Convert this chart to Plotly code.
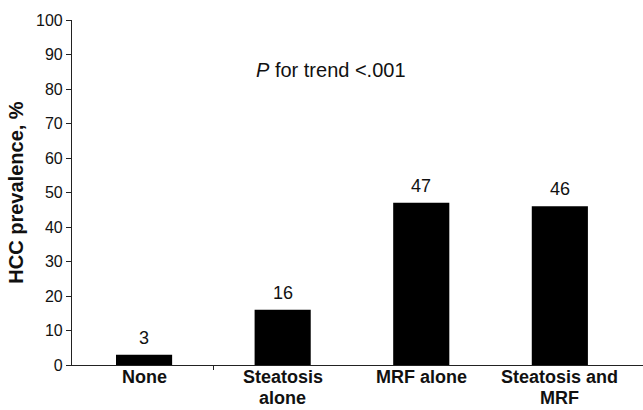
import plotly.graph_objects as go

# HCC prevalence by risk-factor group
categories = ["None", "Steatosis<br>alone", "MRF alone", "Steatosis and<br>MRF"]
prevalence = [3, 16, 47, 46]
y_ticks = [0, 10, 20, 30, 40, 50, 60, 70, 80, 90, 100]

FONT = "Liberation Sans, Arial, Helvetica, sans-serif"
INK = "#111"
x_pos = list(range(len(categories)))

fig = go.Figure()
fig.add_trace(go.Bar(
    x=x_pos,
    y=prevalence,
    marker=dict(color="black", line=dict(width=0)),
    width=0.405,
    hoverinfo="skip",
))

annotations = []

# value labels above each bar
for xi, v in zip(x_pos, prevalence):
    annotations.append(dict(
        x=xi, y=v, xref="x", yref="y", text=str(v),
        showarrow=False, yanchor="bottom", yshift=5,
        font=dict(family=FONT, size=18, color=INK),
    ))

# category labels, one annotation per line for tight line spacing
for xi, cat in zip(x_pos, categories):
    for j, line in enumerate(cat.split("<br>")):
        annotations.append(dict(
            x=xi, y=0, xref="x", yref="y", text=f"<b>{line}</b>",
            showarrow=False, yanchor="top", yshift=-1 - 21 * j,
            borderpad=0,
            font=dict(family=FONT, size=18, color=INK),
        ))

annotations.append(dict(
    x=1.35, y=85.5, xref="x", yref="y",
    text="<i>P</i> for trend <.001",
    showarrow=False,
    font=dict(family=FONT, size=20, color=INK),
))

fig.update_layout(
    width=643, height=410,
    margin=dict(l=72, r=0, t=20, b=45),
    paper_bgcolor="white", plot_bgcolor="white",
    showlegend=False,
    font=dict(family=FONT, color=INK),
    xaxis=dict(
        range=[-0.52, 3.6],
        tickvals=[0.5], showticklabels=False,
        ticks="outside", ticklen=4, tickcolor="#222", tickwidth=1.2,
        showline=True, linecolor="#222", linewidth=1.2,
        showgrid=False, zeroline=False,
    ),
    yaxis=dict(
        range=[0, 100],
        tickvals=y_ticks,
        ticks="outside", ticklen=5, tickcolor="#222", tickwidth=1.2,
        tickfont=dict(size=16, color=INK),
        showline=True, linecolor="#222", linewidth=1.2,
        showgrid=False, zeroline=False,
        title=dict(text="<b>HCC prevalence, %</b>", font=dict(size=20, color=INK), standoff=6),
    ),
    annotations=annotations,
)

fig.write_html("out.html")
